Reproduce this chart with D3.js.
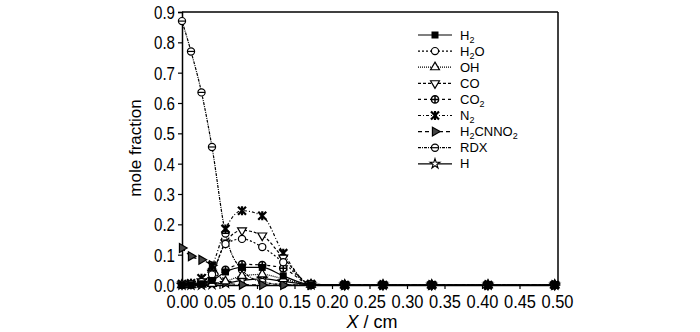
<!DOCTYPE html>
<html><head><meta charset="utf-8">
<script src="https://cdn.jsdelivr.net/npm/d3@7"></script>
<style>
body{margin:0;background:#fff;}
svg{display:block;}
text{font-family:"Liberation Sans",Arial,sans-serif;fill:#000;}
</style></head>
<body><svg id="c" width="700" height="332"></svg>
<script>
const xs = [0, 0.012, 0.026, 0.040, 0.058, 0.080, 0.107, 0.135, 0.172, 0.217, 0.268, 0.333, 0.408, 0.497];
const H2      = [0, 0.001, 0.004, 0.015, 0.043, 0.058, 0.058, 0.030, 0.001, 0, 0, 0, 0, 0];
const H2O     = [0.001, 0.003, 0.010, 0.035, 0.135, 0.152, 0.125, 0.075, 0.003, 0, 0, 0, 0, 0];
const OH      = [0, 0, 0.001, 0.004, 0.012, 0.030, 0.035, 0.020, 0.001, 0, 0, 0, 0, 0];
const CO      = [0.002, 0.004, 0.012, 0.040, 0.140, 0.180, 0.163, 0.090, 0.003, 0, 0, 0, 0, 0];
const CO2     = [0, 0.002, 0.006, 0.020, 0.050, 0.068, 0.066, 0.055, 0.002, 0, 0, 0, 0, 0];
const N2      = [0.003, 0.006, 0.022, 0.063, 0.185, 0.245, 0.228, 0.105, 0.003, 0, 0, 0, 0, 0];
const H2CNNO2 = [0.122, 0.095, 0.083, 0.065, 0.008, 0.001, 0, 0, 0, 0, 0, 0, 0, 0];
const RDX     = [0.870, 0.770, 0.635, 0.455, 0.170, 0.050, 0.010, 0.002, 0, 0, 0, 0, 0, 0];
const Hat     = [0, 0, 0, 0.002, 0.006, 0.015, 0.020, 0.012, 0.001, 0, 0, 0, 0, 0];
const xTicks = [0,0.05,0.1,0.15,0.2,0.25,0.3,0.35,0.4,0.45,0.5];
const yTicks = [0,0.1,0.2,0.3,0.4,0.5,0.6,0.7,0.8,0.9];

const series = [
 {name:"H2", lab:["H","2"], v:H2, dash:null, m:"sq"},
 {name:"H2O", lab:["H","2","O"], v:H2O, dash:"2,2", m:"circ"},
 {name:"OH", lab:["OH"], v:OH, dash:"1,1", m:"tri"},
 {name:"CO", lab:["CO"], v:CO, dash:"3,2", m:"trid"},
 {name:"CO2", lab:["CO","2"], v:CO2, dash:"3,3", m:"oplus"},
 {name:"N2", lab:["N","2"], v:N2, dash:"3,2,1,2", m:"x"},
 {name:"H2CNNO2", lab:["H","2","CNNO","2"], v:H2CNNO2, dash:"4,3", m:"trir"},
 {name:"RDX", lab:["RDX"], v:RDX, dash:"3,1,1,1", m:"ominus"},
 {name:"H", lab:["H"], v:Hat, dash:null, m:"star"}
];

const svg = d3.select("#c");
const L=182, R=557, T=12, B=285;
const x = d3.scaleLinear().domain([0,0.5]).range([L,R]);
const y = d3.scaleLinear().domain([0,0.9]).range([B,T]);

// frame
svg.append("line").attr("x1",L).attr("x2",R+1).attr("y1",T).attr("y2",T).attr("stroke","#000").attr("stroke-width",1.5);
svg.append("line").attr("x1",R+1).attr("x2",R+1).attr("y1",T).attr("y2",B).attr("stroke","#000").attr("stroke-width",1.5);

const xa = svg.append("g").attr("transform",`translate(0,${B})`)
 .call(d3.axisBottom(x).tickValues(xTicks).tickFormat(d3.format(".2f")).tickSizeOuter(0).tickSize(4).tickPadding(6));
const ya = svg.append("g").attr("transform",`translate(${L},0)`)
 .call(d3.axisLeft(y).tickValues(yTicks).tickFormat(d3.format(".1f")).tickSizeOuter(0).tickSize(4).tickPadding(3));
[xa,ya].forEach(a=>{a.select(".domain").attr("stroke-width",1.5);a.selectAll(".tick line").attr("stroke-width",1.2);a.selectAll(".tick text").attr("font-size",18);});
xa.selectAll(".tick text").attr("dy","0.72em").attr("textLength",32).attr("lengthAdjust","spacingAndGlyphs");
ya.selectAll(".tick text").attr("dy","0.36em").attr("textLength",21).attr("lengthAdjust","spacingAndGlyphs");

svg.append("text").attr("transform",`translate(141,148) rotate(-90)`).attr("text-anchor","middle").attr("font-size",17).text("mole fraction");
const xt = svg.append("text").attr("x",372).attr("y",328).attr("text-anchor","middle").attr("font-size",18);
xt.append("tspan").attr("font-style","italic").text("X");
xt.append("tspan").text(" / cm");

function marker(g, type){
  const s=3.6;
  if(type==="sq") g.append("rect").attr("x",-3.5).attr("y",-3.5).attr("width",7).attr("height",7).attr("fill","#000");
  else if(type==="circ") g.append("circle").attr("r",s).attr("fill","#fff").attr("stroke","#000").attr("stroke-width",1.2);
  else if(type==="tri") g.append("path").attr("d",d3.symbol(d3.symbolTriangle,34)()).attr("fill","#fff").attr("stroke","#000").attr("stroke-width",1.2);
  else if(type==="trid") g.append("path").attr("d",d3.symbol(d3.symbolTriangle,34)()).attr("transform","rotate(180)").attr("fill","#fff").attr("stroke","#000").attr("stroke-width",1.2);
  else if(type==="trir") g.append("path").attr("d",d3.symbol(d3.symbolTriangle,34)()).attr("transform","rotate(90)").attr("fill","#444").attr("stroke","#000").attr("stroke-width",1.2);
  else if(type==="oplus"){g.append("circle").attr("r",s).attr("fill","#fff").attr("stroke","#000").attr("stroke-width",1.5);
    g.append("path").attr("d",`M${-s},0H${s}M0,${-s}V${s}`).attr("stroke","#000").attr("stroke-width",1.5);}
  else if(type==="ominus"){g.append("circle").attr("r",s).attr("fill","#fff").attr("stroke","#000").attr("stroke-width",1.2);
    g.append("path").attr("d",`M${-s},0H${s}`).attr("stroke","#000").attr("stroke-width",1.2);}
  else if(type==="x") g.append("path").attr("d",`M-4,-4L4,4M-4,4L4,-4M0,-4.5V4.5`).attr("stroke","#000").attr("stroke-width",2.2);
  else if(type==="star") g.append("path").attr("d",d3.symbol(d3.symbolStar,30)()).attr("fill","#fff").attr("stroke","#000").attr("stroke-width",1.1);
}

const line = d3.line().x((d,i)=>x(xs[i])).y(d=>y(d)).curve(d3.curveMonotoneX);
series.forEach(s=>{
  svg.append("path").attr("d",line(s.v)).attr("fill","none").attr("stroke","#000").attr("stroke-width",1.2)
    .attr("stroke-dasharray",s.dash);
});
series.slice().reverse().forEach(s=>{
  s.v.forEach((v,i)=>{ marker(svg.append("g").attr("transform",`translate(${x(xs[i])},${y(v)})`), s.m); });
});

// legend
const lg = svg.append("g");
series.forEach((s,i)=>{
  const yy = 35 + i*16.1;
  lg.append("line").attr("x1",418).attr("x2",452).attr("y1",yy).attr("y2",yy).attr("stroke","#000").attr("stroke-width",1.2).attr("stroke-dasharray",s.dash);
  marker(lg.append("g").attr("transform",`translate(435,${yy})`), s.m);
  const t = lg.append("text").attr("x",460).attr("y",yy).attr("dy","0.36em").attr("font-size",13);
  s.lab.forEach((p,j)=>{
    const sub = /^\d$/.test(p);
    const ts = t.append("tspan").text(p);
    if(sub) ts.attr("font-size",9).attr("dy",3);
    else if(j>0) ts.attr("dy",-3);
  });
});
</script></body></html>
